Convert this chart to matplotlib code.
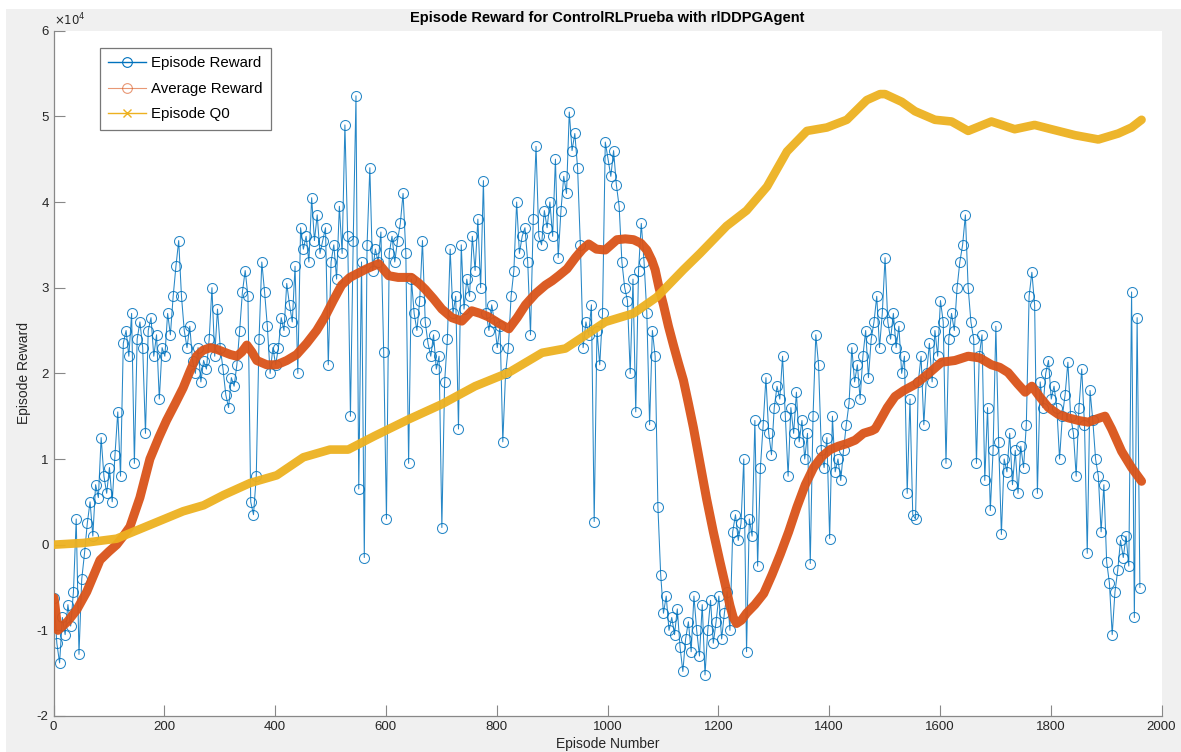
import numpy as np
import matplotlib.pyplot as plt
from matplotlib.lines import Line2D
from matplotlib.patches import Rectangle

# values are in units of 1e4 (axis shows x10^4)
episodes = np.arange(1, 1966, 5)
episode_reward = [
    -0.62, -1.15, -1.38, -0.85, -1.05, -0.70, -0.95, -0.55, 0.30, -1.28,
    -0.40, -0.10, 0.25, 0.50, 0.10, 0.70, 0.55, 1.25, 0.80, 0.60,
    0.90, 0.50, 1.05, 1.55, 0.80, 2.35, 2.50, 2.20, 2.70, 0.95,
    2.40, 2.60, 2.30, 1.30, 2.50, 2.65, 2.20, 2.45, 1.70, 2.30,
    2.20, 2.70, 2.45, 2.90, 3.25, 3.55, 2.90, 2.50, 2.30, 2.55,
    2.15, 2.00, 2.30, 1.90, 2.15, 2.05, 2.40, 3.00, 2.20, 2.75,
    2.30, 2.05, 1.75, 1.60, 1.95, 1.85, 2.10, 2.50, 2.95, 3.20,
    2.90, 0.50, 0.35, 0.80, 2.40, 3.30, 2.95, 2.55, 2.00, 2.30,
    2.10, 2.30, 2.65, 2.50, 3.05, 2.80, 2.60, 3.25, 2.00, 3.70,
    3.45, 3.60, 3.30, 4.05, 3.55, 3.85, 3.40, 3.55, 3.70, 2.10,
    3.30, 3.50, 3.10, 3.95, 3.40, 4.90, 3.60, 1.50, 3.55, 5.24,
    0.65, 3.30, -0.15, 3.50, 4.40, 3.20, 3.45, 3.30, 3.65, 2.25,
    0.30, 3.40, 3.60, 3.30, 3.55, 3.75, 4.10, 3.40, 0.95, 3.10,
    2.70, 2.50, 2.85, 3.55, 2.60, 2.35, 2.20, 2.45, 2.05, 2.20,
    0.20, 1.90, 2.40, 3.45, 2.70, 2.90, 1.35, 3.50, 2.75, 3.10,
    2.90, 3.60, 3.20, 3.80, 3.00, 4.25, 2.70, 2.50, 2.80, 2.60,
    2.30, 2.55, 1.20, 2.00, 2.30, 2.90, 3.20, 4.00, 3.40, 3.60,
    3.70, 3.30, 2.45, 3.80, 4.65, 3.60, 3.50, 3.90, 3.70, 4.00,
    3.60, 4.50, 3.35, 3.90, 4.30, 4.10, 5.05, 4.60, 4.80, 4.40,
    3.50, 2.30, 2.60, 2.45, 2.80, 0.27, 2.50, 2.10, 2.70, 4.70,
    4.50, 4.30, 4.60, 4.20, 3.95, 3.30, 3.00, 2.85, 2.00, 3.10,
    1.55, 3.20, 3.75, 3.30, 2.70, 1.40, 2.50, 2.20, 0.44, -0.35,
    -0.80, -0.60, -1.00, -0.85, -1.05, -0.75, -1.20, -1.48, -1.10, -0.90,
    -1.25, -0.60, -1.00, -1.30, -0.70, -1.52, -1.00, -0.65, -1.15, -0.90,
    -0.60, -1.10, -0.80, -0.55, -1.00, 0.15, 0.35, 0.05, 0.25, 1.00,
    -1.25, 0.30, 0.10, 1.45, -0.25, 0.90, 1.40, 1.95, 1.30, 1.05,
    1.60, 1.85, 1.70, 2.20, 1.50, 0.80, 1.60, 1.30, 1.78, 1.20,
    1.45, 1.00, 1.30, -0.22, 1.50, 2.45, 2.10, 1.10, 0.90, 1.25,
    0.07, 1.50, 0.85, 1.00, 0.75, 1.10, 1.40, 1.65, 2.30, 1.90,
    2.10, 1.70, 2.20, 2.50, 1.95, 2.40, 2.60, 2.90, 2.30, 2.70,
    3.35, 2.60, 2.40, 2.70, 2.30, 2.55, 2.00, 2.20, 0.60, 1.70,
    0.35, 0.30, 1.90, 2.20, 1.40, 2.00, 2.35, 1.90, 2.50, 2.20,
    2.85, 2.60, 0.95, 2.40, 2.70, 2.50, 3.00, 3.30, 3.50, 3.85,
    3.00, 2.60, 2.40, 0.95, 2.20, 2.45, 0.75, 1.60, 0.40, 1.10,
    2.55, 1.20, 0.12, 1.00, 0.85, 1.30, 0.70, 1.10, 0.60, 1.15,
    0.90, 1.40, 2.90, 3.18, 2.80, 0.60, 1.90, 1.60, 2.00, 2.15,
    1.70, 1.85, 1.60, 1.00, 1.50, 1.75, 2.13, 1.50, 1.30, 0.80,
    1.60, 2.05, 1.40, -0.10, 1.80, 1.45, 1.00, 0.80, 0.15, 0.70,
    -0.20, -0.45, -1.05, -0.55, -0.30, 0.05, -0.15, 0.10, -0.25, 2.95,
    -0.85, 2.65, -0.50,
]

avg_episodes = [
    1, 8, 25, 42, 60, 84, 100, 114, 126, 138, 156, 174, 190, 204, 220, 234,
    246, 258, 270, 283, 295, 307, 319, 331, 340, 349, 358, 367, 385, 403, 421,
    439, 457, 475, 490, 505, 520, 535, 550, 565, 587, 605, 622, 646, 660, 671,
    686, 701, 719, 737, 755, 770, 785, 805, 822, 837, 852, 870, 888, 900, 912,
    927, 942, 955, 966, 980, 996, 1017, 1032, 1047, 1060, 1071, 1080, 1086,
    1093, 1101, 1110, 1119, 1128, 1137, 1146, 1155, 1167, 1179, 1191, 1203,
    1212, 1221, 1227, 1233, 1242, 1251, 1266, 1282, 1297, 1312, 1327, 1342,
    1357, 1372, 1387, 1402, 1417, 1432, 1447, 1462, 1477, 1483, 1492, 1505,
    1519, 1535, 1555, 1580, 1603, 1627, 1651, 1672, 1693, 1708, 1723, 1740,
    1754, 1766, 1781, 1796, 1814, 1832, 1850, 1868, 1884, 1898, 1910, 1928,
    1946, 1964,
]
average_reward = [
    -0.62, -1.00, -0.90, -0.76, -0.55, -0.18, -0.08, 0.00, 0.10, 0.21, 0.55,
    1.00, 1.25, 1.45, 1.65, 1.83, 2.02, 2.20, 2.27, 2.30, 2.28, 2.25, 2.22,
    2.20, 2.25, 2.33, 2.25, 2.15, 2.10, 2.10, 2.15, 2.22, 2.35, 2.50, 2.66,
    2.85, 3.03, 3.12, 3.17, 3.22, 3.28, 3.14, 3.12, 3.12, 3.05, 2.98, 2.87,
    2.75, 2.65, 2.61, 2.73, 2.70, 2.66, 2.58, 2.52, 2.65, 2.80, 2.93, 3.03,
    3.08, 3.14, 3.22, 3.35, 3.45, 3.51, 3.45, 3.44, 3.56, 3.57, 3.56, 3.52,
    3.44, 3.32, 3.21, 3.00, 2.80, 2.55, 2.33, 2.12, 1.92, 1.65, 1.37, 0.95,
    0.53, 0.15, -0.20, -0.45, -0.71, -0.85, -0.92, -0.88, -0.80, -0.70, -0.57,
    -0.35, -0.11, 0.15, 0.44, 0.70, 0.90, 1.03, 1.11, 1.15, 1.18, 1.22, 1.30,
    1.33, 1.35, 1.45, 1.60, 1.73, 1.80, 1.87, 2.00, 2.13, 2.15, 2.20, 2.18,
    2.10, 2.07, 2.01, 1.88, 1.78, 1.85, 1.72, 1.60, 1.52, 1.48, 1.45, 1.43,
    1.47, 1.50, 1.35, 1.09, 0.90, 0.74,
]

q0_episodes = [
    1, 54, 114, 174, 234, 271, 307, 355, 403, 451, 499, 532, 580, 640, 701,
    761, 822, 882, 924, 966, 996, 1047, 1089, 1137, 1167, 1215, 1251, 1288,
    1324, 1360, 1396, 1432, 1468, 1492, 1501, 1531, 1555, 1591, 1621, 1651,
    1693, 1735, 1771, 1801, 1844, 1886, 1922, 1946, 1964,
]
episode_q0 = [
    0.00, 0.02, 0.07, 0.23, 0.39, 0.46, 0.58, 0.72, 0.81, 1.02, 1.11, 1.11,
    1.27, 1.46, 1.64, 1.85, 2.01, 2.24, 2.29, 2.47, 2.60, 2.70, 2.89, 3.21,
    3.40, 3.72, 3.90, 4.18, 4.59, 4.83, 4.87, 4.96, 5.19, 5.26, 5.26, 5.17,
    5.06, 4.96, 4.94, 4.83, 4.94, 4.85, 4.90, 4.85, 4.78, 4.73, 4.80, 4.87,
    4.96,
]

BLUE = "#0072BD"
ORANGE = "#D95319"
YELLOW = "#EDB120"

plt.rcParams["font.family"] = ["Liberation Sans", "DejaVu Sans"]
plt.rcParams["axes.unicode_minus"] = False

W, H = 1181, 752
fig = plt.figure(figsize=(W / 100, H / 100), dpi=100, facecolor="white")
fig.patches.append(Rectangle((6 / W, 0), 1, (H - 9) / H, transform=fig.transFigure,
                             facecolor="#f0f0f0", edgecolor="none", zorder=-10))

ax = fig.add_axes([53.5 / W, (H - 716) / H, 1108 / W, (716 - 30.7) / H])
ax.set_facecolor("white")

ax.plot(episodes, episode_reward, color=BLUE, lw=0.75, marker="o", ms=7.2,
        mfc="none", mec=BLUE, mew=0.75, alpha=0.85, zorder=2)
ax.plot(avg_episodes, average_reward, color=ORANGE, lw=6.5, alpha=0.95,
        solid_capstyle="round", solid_joinstyle="round", zorder=3)
ax.plot(q0_episodes, episode_q0, color=YELLOW, lw=6.2, alpha=0.95,
        solid_capstyle="round", solid_joinstyle="round", zorder=4)

ax.set_xlim(0, 2000)
ax.set_ylim(-2, 6)
ax.set_xticks(range(0, 2001, 200))
ax.set_yticks(range(-2, 7))
ax.tick_params(direction="in", length=8, width=0.8, colors="#888888",
               labelcolor="#262626", labelsize=9.5)
for side in ("top", "right"):
    ax.spines[side].set_visible(False)
for side in ("left", "bottom"):
    ax.spines[side].set_color("#888888")
    ax.spines[side].set_linewidth(0.9)

ax.text(0.0, 1.004, r"$\times10^4$", transform=ax.transAxes, fontsize=8.5,
        color="#262626", ha="left", va="bottom")
ax.set_title("Episode Reward for ControlRLPrueba with rlDDPGAgent",
             fontsize=10.5, fontweight="bold", pad=6)
ax.set_xlabel("Episode Number", fontsize=10, color="#262626", labelpad=3)
ax.set_ylabel("Episode Reward", fontsize=10, color="#262626", labelpad=4)

handles = [
    Line2D([], [], color=BLUE, lw=1, marker="o", ms=7, mfc="none", mew=0.8),
    Line2D([], [], color=ORANGE, lw=0.8, alpha=0.6, marker="o", ms=7,
           mfc="none", mew=0.8),
    Line2D([], [], color=YELLOW, lw=1, marker="x", ms=6, mew=1),
]
leg = ax.legend(handles, ["Episode Reward", "Average Reward", "Episode Q0"],
                loc="upper left", bbox_to_anchor=(0.042, 0.975), fontsize=10.8,
                frameon=True, fancybox=False, handlelength=2.5,
                borderpad=0.55, labelspacing=0.78, handletextpad=0.35,
                borderaxespad=0)
leg.get_frame().set_edgecolor("#555555")
leg.get_frame().set_linewidth(0.9)

fig.savefig("out.png", dpi=100, facecolor=fig.get_facecolor())
